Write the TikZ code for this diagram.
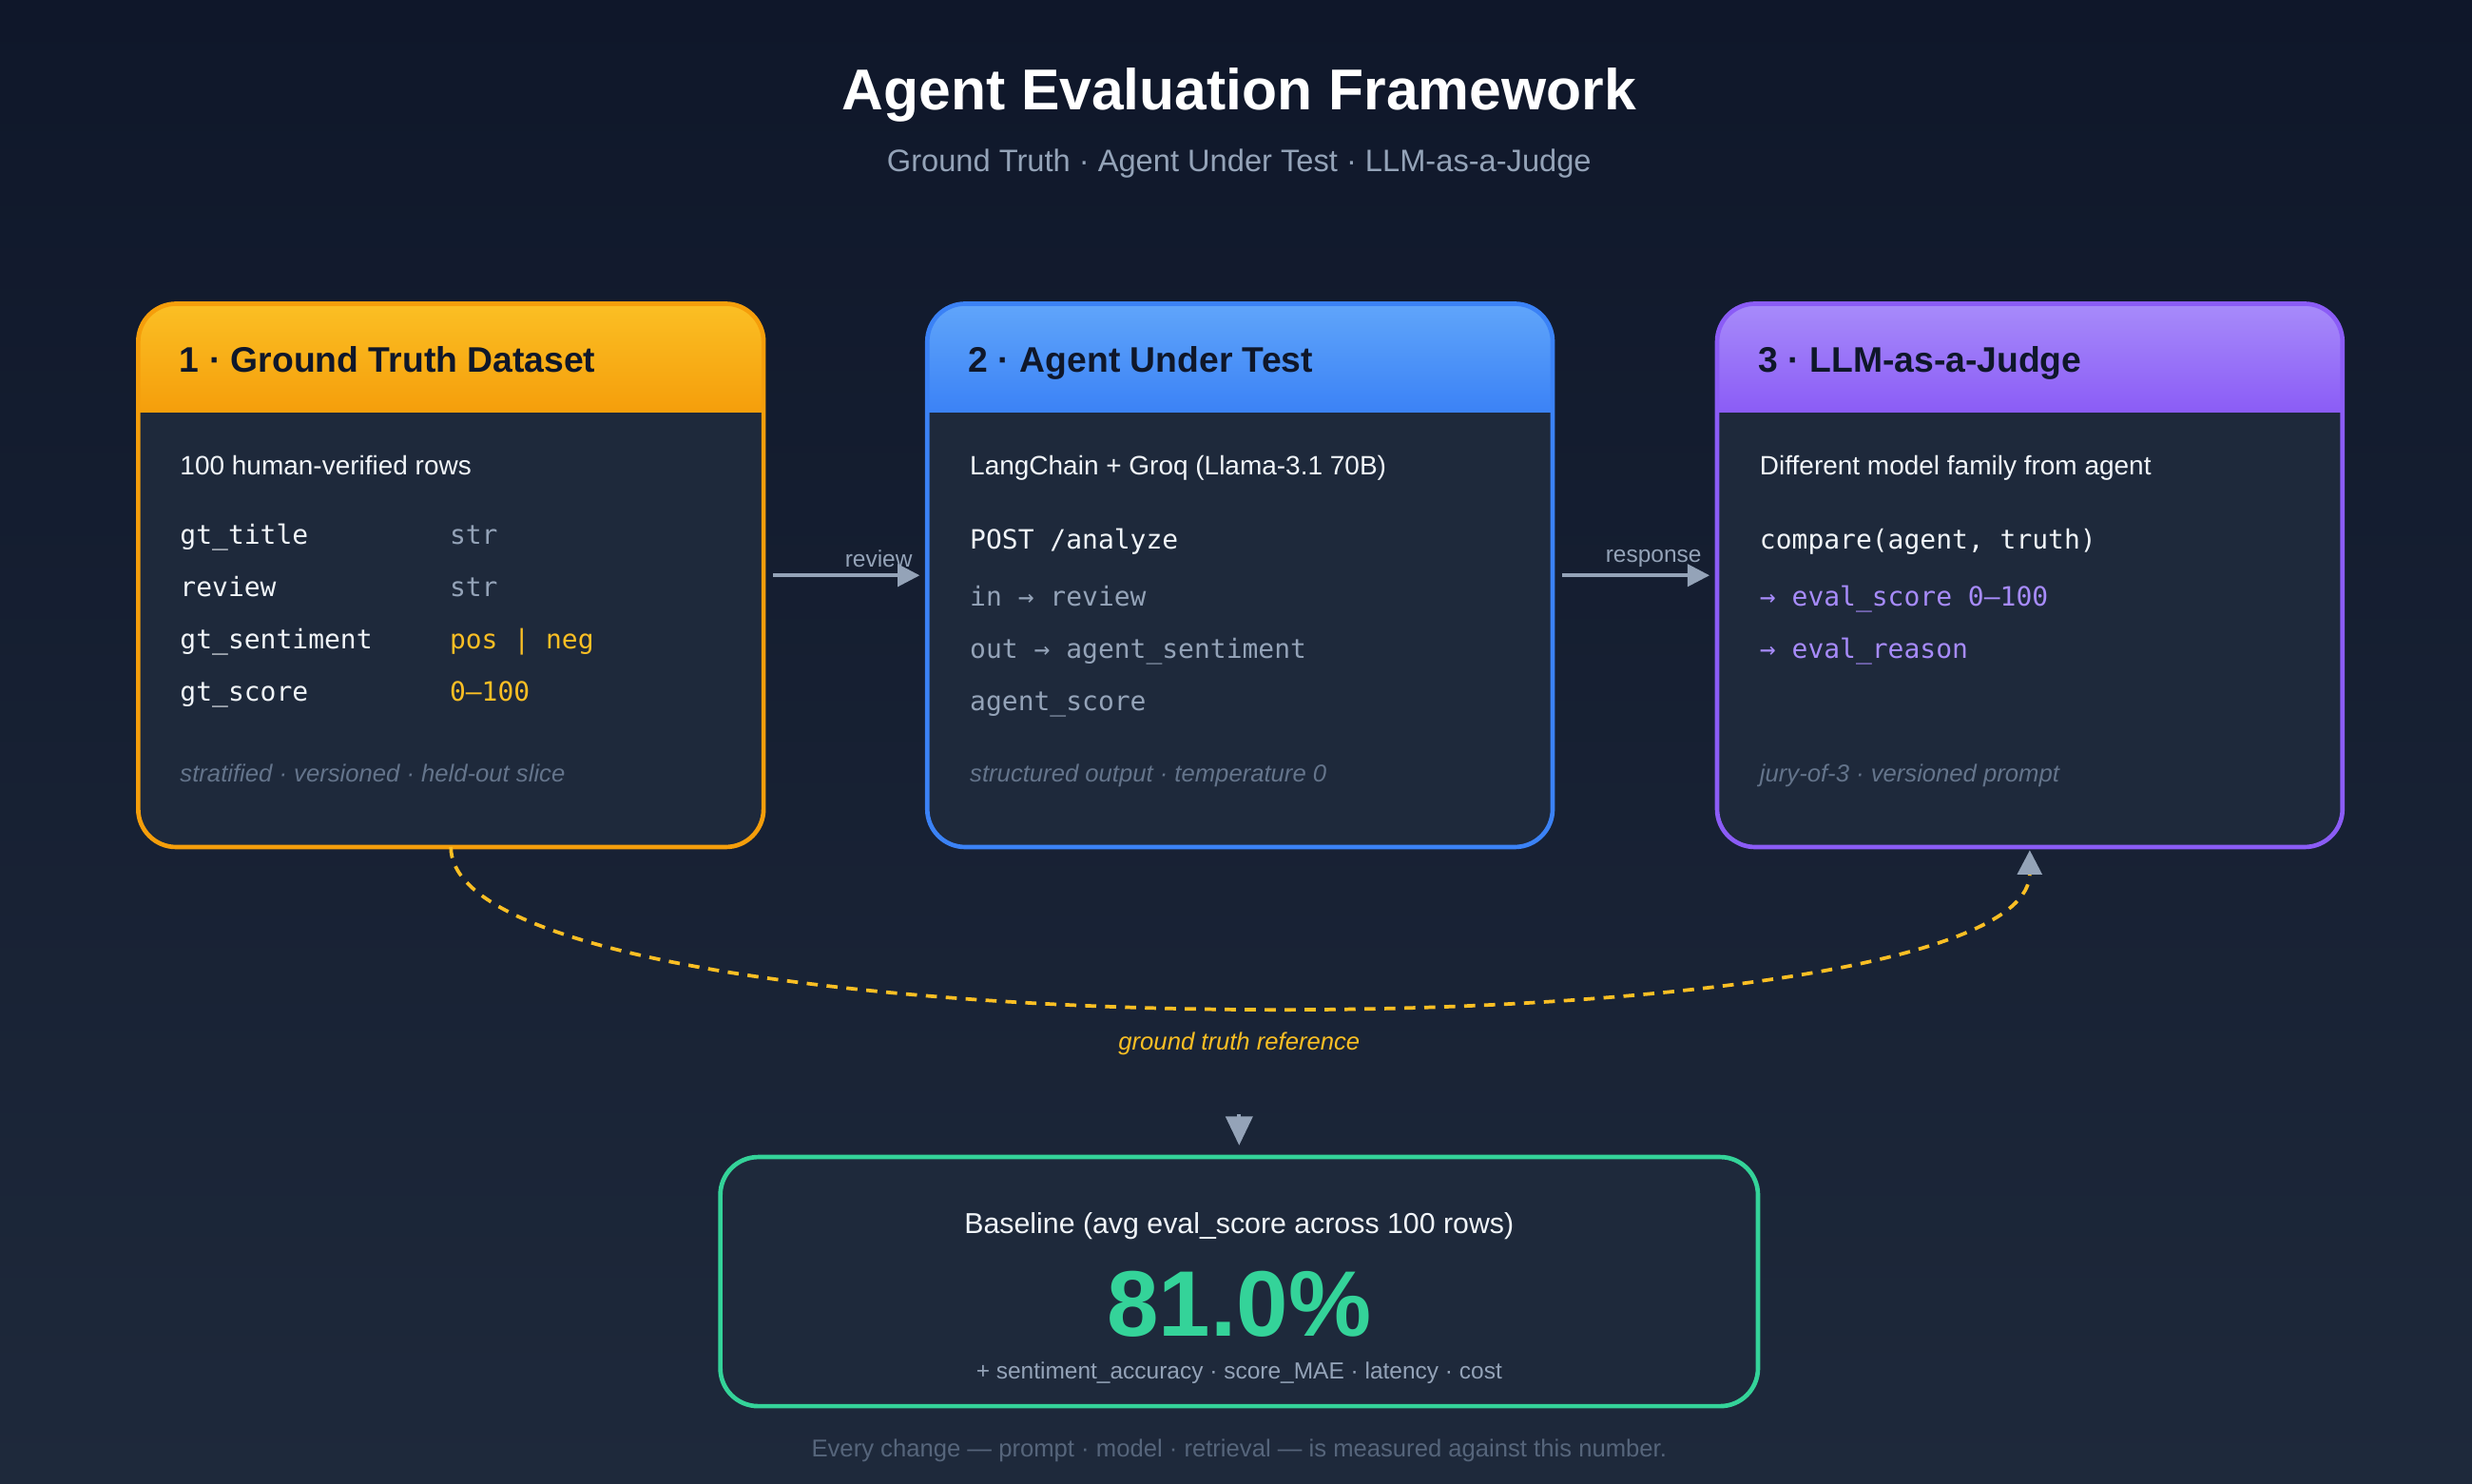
\documentclass[tikz,border=0pt]{standalone}
\usepackage{fontspec}
\setmainfont{Liberation Sans}
\setmonofont{DejaVu Sans Mono}
\usetikzlibrary{positioning,arrows.meta}

\definecolor{bgtop}{HTML}{0F172A}
\definecolor{bgbot}{HTML}{1E293B}
\definecolor{cardbg}{HTML}{1E293B}
\definecolor{amber}{HTML}{F59E0B}
\definecolor{amberLt}{HTML}{FBBF24}
\definecolor{blueA}{HTML}{3B82F6}
\definecolor{blueALt}{HTML}{60A5FA}
\definecolor{violet}{HTML}{8B5CF6}
\definecolor{violetLt}{HTML}{A78BFA}
\definecolor{mint}{HTML}{10B981}
\definecolor{mintLt}{HTML}{34D399}
\definecolor{slate}{HTML}{94A3B8}
\definecolor{dimslate}{HTML}{64748B}
\definecolor{ink}{HTML}{0F172A}
\definecolor{paper}{HTML}{F1F5F9}

\tikzset{
	card/.style={fill=cardbg, rounded corners=0.6cm,
		minimum width=9.9cm, minimum height=8.6cm, inner sep=0pt},
	rim/.style={line width=2pt, rounded corners=0.6cm},
	headtxt/.style={anchor=mid west, text=ink, font=\bfseries\fontsize{16}{18}\selectfont, inner sep=0pt},
	body/.style={anchor=mid west, yshift=-0.07cm, text=paper, font=\fontsize{12}{14}\selectfont, inner sep=0pt},
	code/.style={anchor=mid west, yshift=-0.07cm, text=paper, font=\ttfamily\fontsize{12}{14}\selectfont, inner sep=0pt},
	foot/.style={anchor=mid west, yshift=-0.04cm, text=dimslate, font=\itshape\fontsize{11}{13}\selectfont, inner sep=0pt},
	flow/.style={line width=1.6pt, draw=slate, -{Triangle[length=10pt,width=10pt,fill=slate]}},
	flowlbl/.style={text=slate, font=\fontsize{10.5}{12}\selectfont, inner sep=3pt},
}

\newcommand\cardhead[3]{%
	\begin{scope}
		\clip[rounded corners=0.6cm] (#1.south west) rectangle (#1.north east);
		\fill[top color=#2Lt, bottom color=#2] (#1.north west) rectangle ([yshift=-1.725cm]#1.north east);
	\end{scope}
	\draw[rim, #2] (#1.south west) rectangle (#1.north east);
	\node[headtxt] at ([xshift=0.65cm,yshift=-1.0cm]#1.north west) {#3};%
}

\begin{document}
\begin{tikzpicture}[x=0.025cm, y=-0.025cm]
	\fill[top color=bgtop, bottom color=bgbot] (0,0) rectangle (1568,941);

	\node[text=white, font=\bfseries\fontsize{26}{30}\selectfont] (title) at (786,60) {Agent Evaluation Framework};
	\node[text=slate, font=\fontsize{14}{16}\selectfont] (sub) at (786,104) {Ground Truth · Agent Under Test · LLM-as-a-Judge};

	% three stages
	\node[card] (gt) at (286,365) {};
	\node[card] (agent) at (786.5,365) {};
	\node[card] (judge) at (1287.5,365) {};
	\cardhead{gt}{amber}{1 · Ground Truth Dataset}
	\cardhead{agent}{blueA}{2 · Agent Under Test}
	\cardhead{judge}{violet}{3 · LLM-as-a-Judge}

	% stage 1
	\node[body] (gt0) at (114,295) {100 human-verified rows};
	\node[code] (gtk1) at (114,339) {gt\_title};
	\node[code] (gtk2) at (114,372) {review};
	\node[code] (gtk3) at (114,405) {gt\_sentiment};
	\node[code] (gtk4) at (114,438) {gt\_score};
	\node[code, text=slate] (gtv1) at (285,339) {str};
	\node[code, text=slate] (gtv2) at (285,372) {str};
	\node[code, text=amberLt] (gtv3) at (285,405) {pos | neg};
	\node[code, text=amberLt] (gtv4) at (285,438) {0–100};
	\node[foot] (gtf) at (114,491) {stratified · versioned · held-out slice};

	% stage 2
	\node[body] (ag0) at (615,295) {LangChain + Groq (Llama-3.1 70B)};
	\node[code] (ag1) at (615,342) {POST /analyze};
	\node[code, text=slate] (ag2) at (615,378) {in → review};
	\node[code, text=slate] (ag3) at (615,411) {out → agent\_sentiment};
	\node[code, text=slate] (ag4) at (615,444) {agent\_score};
	\node[foot] (agf) at (615,491) {structured output · temperature 0};

	% stage 3
	\node[body] (jd0) at (1116,295) {Different model family from agent};
	\node[code] (jd1) at (1116,342) {compare(agent, truth)};
	\node[code, text=violetLt] (jd2) at (1116,378) {→ eval\_score 0–100};
	\node[code, text=violetLt] (jd3) at (1116,411) {→ eval\_reason};
	\node[foot] (jdf) at (1116,491) {jury-of-3 · versioned prompt};

	\draw[flow] ([xshift=0.15cm]gt.east) to node[flowlbl, above, pos=0.72] {review} ([xshift=-0.12cm]agent.west);
	\draw[flow] ([xshift=0.15cm]agent.east) to node[flowlbl, above, pos=0.62] {response} ([xshift=-0.12cm]judge.west);

	% reference loop
	\draw[line width=1.6pt, amberLt, dash pattern=on 5pt off 4pt,
		-{Triangle[length=11pt,width=11pt,fill=slate,color=slate]}]
		(gt.south) .. controls (286,672) and (1287,672) .. ([yshift=-0.05cm]judge.south);
	\node[text=amberLt, font=\itshape\fontsize{11}{13}\selectfont] (gtref) at (786,662) {ground truth reference};

	% baseline
	\node[fill=cardbg, draw=mintLt, line width=2pt, rounded corners=0.6cm,
		minimum width=16.45cm, minimum height=3.95cm] (base) at (786,813) {};
	\coordinate (drop) at (786,707);
	\draw[flow, -{Triangle[length=13pt,width=12pt,fill=slate]}] (drop) -- ([yshift=0.15cm]base.north);
	\node[text=paper, font=\fontsize{13}{15}\selectfont] (b1) at (786,778) {Baseline (avg eval\_score across 100 rows)};
	\node[text=mintLt, font=\bfseries\fontsize{42}{46}\selectfont] (b2) at (786,827) {81.0\%};
	\node[text=slate, font=\fontsize{10.5}{12}\selectfont] (b3) at (786,871) {+ sentiment\_accuracy · score\_MAE · latency · cost};
	\node[text=dimslate!80!bgbot, font=\fontsize{11}{13}\selectfont] (note) at (786,920) {Every change — prompt · model · retrieval — is measured against this number.};
\end{tikzpicture}
\end{document}
